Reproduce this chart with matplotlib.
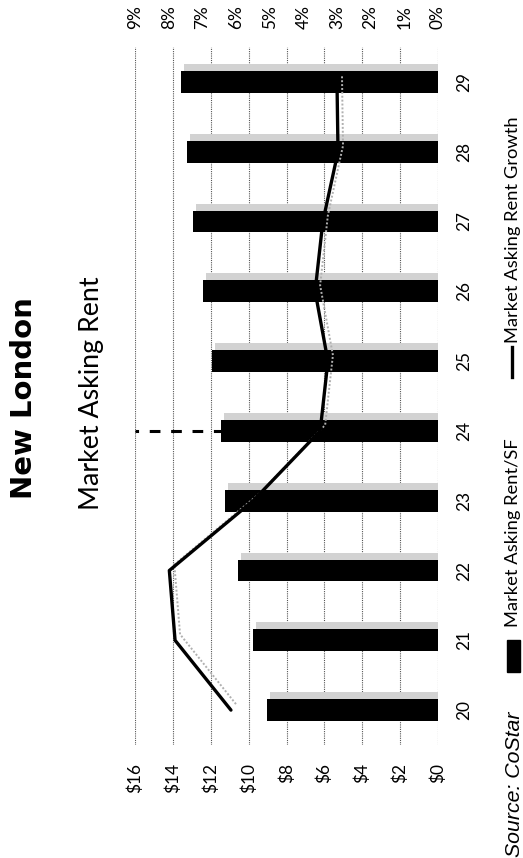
import matplotlib
matplotlib.use('Agg')
import matplotlib.pyplot as plt
import matplotlib.transforms as mtransforms
from matplotlib.patches import Rectangle
from matplotlib.lines import Line2D

# ---------------- data ----------------
years = [20, 21, 22, 23, 24, 25, 26, 27, 28, 29]
year_labels = [str(y) for y in years]
rent = [9.04, 9.75, 10.58, 11.25, 11.46, 11.96, 12.40, 12.93, 13.28, 13.58]
growth = [6.15, 7.81, 7.98, 5.49, 3.50, 3.27, 3.65, 3.42, 2.97, 3.00]
rent_ticks = [0, 2, 4, 6, 8, 10, 12, 14, 16]
rent_tick_labels = ['$0', '$2', '$4', '$6', '$8', '$10', '$12', '$14', '$16']
growth_ticks = [0, 1, 2, 3, 4, 5, 6, 7, 8, 9]
growth_tick_labels = ['0%', '1%', '2%', '3%', '4%', '5%', '6%', '7%', '8%', '9%']
forecast_year = 24
title = 'New London'
subtitle = 'Market Asking Rent'
source = 'Source: CoStar'
series_names = ['Market Asking Rent/SF', 'Market Asking Rent Growth']

W, H = 523, 858
fig = plt.figure(figsize=(W / 100, H / 100), dpi=100)
fig.patch.set_facecolor('white')

def fx(px):
    return px / W

def fy(py):
    return 1 - py / H

# plot area (chart is rotated 90 degrees counter-clockwise)
left_px, right_px, top_px, bot_px = 135, 438, 47, 745
ax = fig.add_axes([fx(left_px), fy(bot_px), fx(right_px - left_px), (bot_px - top_px) / H])
ax.set_xlim(16, 0)
ax.set_ylim(19.5, 29.5)
for s in ax.spines.values():
    s.set_visible(False)

ax2 = ax.twiny()
ax2.set_xlim(9, 0)
for s in ax2.spines.values():
    s.set_visible(False)

tick_font = dict(family='Lato', size=12.4)

# gridlines
for t in rent_ticks:
    ax.axvline(t, color='#555555', lw=0.8, ls=(0, (1, 1)), zorder=1)

# forecast marker (dashed)
ax.plot([0, 16], [forecast_year, forecast_year], color='black', lw=2.2,
        ls=(0, (3.5, 3.5)), zorder=1.5)

# bar shadows and bars
shadow_tr = mtransforms.offset_copy(ax.transData, fig=fig, x=3, y=7, units='dots')
ax.barh(years, rent, height=0.31, color='#d2d2d2', transform=shadow_tr, zorder=2)
ax.barh(years, rent, height=0.31, color='black', zorder=3)

# growth line with shadow
line_shadow_tr = mtransforms.offset_copy(ax2.transData, fig=fig, x=5, y=6, units='dots')
ax2.plot(growth, years, color='#b0b0b0', lw=1.4, ls=(0, (1, 1)), transform=line_shadow_tr, zorder=3.5)
ax2.plot(growth, years, color='black', lw=2.4, solid_capstyle='round', zorder=4)

# ticks
ax.set_xticks(rent_ticks)
ax.set_xticklabels(rent_tick_labels, rotation=90, **tick_font)
ax.tick_params(axis='x', length=0, pad=13)
ax2.set_xticks(growth_ticks)
ax2.set_xticklabels(growth_tick_labels, rotation=90, **tick_font)
ax2.tick_params(axis='x', length=0, pad=13)
ax.yaxis.tick_right()
ax.set_yticks(years)
ax.set_yticklabels(year_labels, rotation=90, va='center', **tick_font)
ax.tick_params(axis='y', length=0, pad=13)

# titles
fig.text(fx(24), fy(398), title, rotation=90, ha='center', va='center',
         family='DejaVu Sans', weight='bold', size=21)
fig.text(fx(92), fy(393), subtitle, rotation=90, ha='center', va='center',
         family='Lato', size=19.3)

# legend (manual, rotated)
fig.text(fx(514), fy(857), source, rotation=90, ha='center', va='bottom',
         family='Liberation Sans', style='italic', size=15.3)
fig.patches.append(Rectangle((fx(507), fy(672)), fx(13), (672 - 640) / H,
                             transform=fig.transFigure, color='black'))
fig.text(fx(513), fy(627), series_names[0], rotation=90, ha='center', va='bottom',
         family='Lato', size=13.2)
fig.lines.append(Line2D([fx(512), fx(512)], [fy(377), fy(347)],
                        transform=fig.transFigure, color='black', lw=2.4))
fig.text(fx(513), fy(343), series_names[1], rotation=90, ha='center', va='bottom',
         family='Lato', size=13.2)

fig.savefig('out.png', dpi=100, facecolor='white')
